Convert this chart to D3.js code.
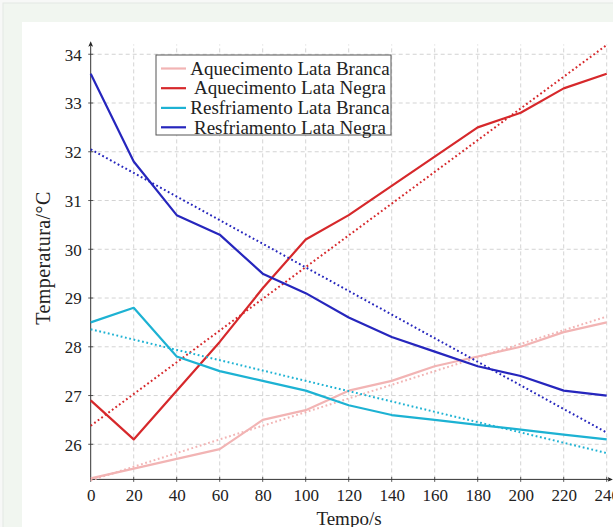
<!DOCTYPE html>
<html lang="pt">
<head>
<meta charset="utf-8">
<title>Temperatura das latas</title>
<script src="https://cdn.jsdelivr.net/npm/d3@7"></script>
<style>
  body { margin: 0; background: #f7f8f7; }
  svg { display: block; }
  text { font-family: "Liberation Serif", "DejaVu Serif", serif; fill: #222; }
</style>
</head>
<body></body>
<script>

//************************************************************//
// Data

var tempo = [0, 20, 40, 60, 80, 100, 120, 140, 160, 180, 200, 220, 240];

var aquecBranca = [25.3, 25.5, 25.7, 25.9, 26.5, 26.7, 27.1, 27.3, 27.6, 27.8, 28.0, 28.3, 28.5];
var aquecNegra  = [26.9, 26.1, 27.1, 28.1, 29.2, 30.2, 30.7, 31.3, 31.9, 32.5, 32.8, 33.3, 33.6];
var resfBranca  = [28.5, 28.8, 27.8, 27.5, 27.3, 27.1, 26.8, 26.6, 26.5, 26.4, 26.3, 26.2, 26.1];
var resfNegra   = [33.6, 31.8, 30.7, 30.3, 29.5, 29.1, 28.6, 28.2, 27.9, 27.6, 27.4, 27.1, 27.0];

// dotted trend lines, values at t = 0 and t = 240
var tendTempo = [0, 240];
var tendAquecBranca = [25.26, 28.62];
var tendAquecNegra  = [26.38, 34.19];
var tendResfBranca  = [28.36, 25.82];
var tendResfNegra   = [32.05, 26.24];

var nomes = ["Aquecimento Lata Branca", "Aquecimento Lata Negra",
             "Resfriamento Lata Branca", "Resfriamento Lata Negra"];
var cores = ["#f2b4b4", "#d6282b", "#1db2d3", "#2626bd"];

var xTicks = [0, 20, 40, 60, 80, 100, 120, 140, 160, 180, 200, 220, 240];
var yTicks = [26, 27, 28, 29, 30, 31, 32, 33, 34];

var series = [aquecBranca, aquecNegra, resfBranca, resfNegra];
var tendencias = [tendAquecBranca, tendAquecNegra, tendResfBranca, tendResfNegra];

//************************************************************//
// Canvas

var width = 613, height = 527;

var canvas = d3.select("body").append("svg")
    .attr("width", width)
    .attr("height", height);

// page frame around the figure
canvas.append("rect")
    .attr("x", 3).attr("y", 3)
    .attr("width", width).attr("height", height)
    .attr("fill", "#f1f6f0")
    .attr("stroke", "#e4e8e4");

canvas.append("rect")
    .attr("x", 22).attr("y", 22)
    .attr("width", width).attr("height", height)
    .attr("fill", "#ffffff");

var x = d3.scaleLinear().domain([0, 240]).range([90.7, 606.7]);
var y = d3.scaleLinear().domain([25.28, 34.2]).range([479.4, 44.5]);

//************************************************************//
// Grid

var grid = canvas.append("g")
    .attr("stroke", "#c8c8c8")
    .attr("stroke-width", 0.8)
    .attr("stroke-dasharray", "4 3");

grid.selectAll(".vgrid").data(xTicks.slice(1)).enter().append("line")
    .attr("x1", d => x(d)).attr("x2", d => x(d))
    .attr("y1", y.range()[0]).attr("y2", y.range()[1]);

grid.selectAll(".hgrid").data(yTicks).enter().append("line")
    .attr("x1", x.range()[0]).attr("x2", x.range()[1])
    .attr("y1", d => y(d)).attr("y2", d => y(d));

//************************************************************//
// Axes

var defs = canvas.append("defs");
defs.append("marker")
    .attr("id", "seta")
    .attr("viewBox", "0 0 10 10")
    .attr("refX", 2).attr("refY", 5)
    .attr("markerWidth", 6).attr("markerHeight", 6)
    .attr("orient", "auto")
  .append("path")
    .attr("d", "M0,1 L9,5 L0,9 L2,5 Z")
    .attr("fill", "#222");

var xAxis = canvas.append("g")
    .attr("transform", "translate(0," + y.range()[0] + ")")
    .call(d3.axisBottom(x).tickValues(xTicks).tickSize(0).tickPadding(10));

var yAxis = canvas.append("g")
    .attr("transform", "translate(" + x.range()[0] + ",0)")
    .call(d3.axisLeft(y).tickValues(yTicks).tickSize(0).tickPadding(9));

[xAxis, yAxis].forEach(function(g){
    g.select(".domain").remove();
    g.selectAll("text").attr("font-size", 17)
        .attr("font-family", "Liberation Serif, serif").attr("fill", "#333");
});
yAxis.selectAll("text").attr("dy", "0.35em");

// ticks crossing the axis lines
canvas.selectAll(".xt").data(xTicks).enter().append("line")
    .attr("x1", d => x(d)).attr("x2", d => x(d))
    .attr("y1", y.range()[0] - 2.5).attr("y2", y.range()[0] + 2.5)
    .attr("stroke", "#333").attr("stroke-width", 0.8);

canvas.selectAll(".yt").data(yTicks).enter().append("line")
    .attr("y1", d => y(d)).attr("y2", d => y(d))
    .attr("x1", x.range()[0] - 2.5).attr("x2", x.range()[0] + 2.5)
    .attr("stroke", "#333").attr("stroke-width", 0.8);

canvas.append("line")
    .attr("x1", x.range()[0]).attr("x2", x.range()[1] + 2)
    .attr("y1", y.range()[0]).attr("y2", y.range()[0])
    .attr("stroke", "#333").attr("stroke-width", 1)
    .attr("marker-end", "url(#seta)");

canvas.append("line")
    .attr("x1", x.range()[0]).attr("x2", x.range()[0])
    .attr("y1", y.range()[0]).attr("y2", y.range()[1] + 1)
    .attr("stroke", "#333").attr("stroke-width", 1)
    .attr("marker-end", "url(#seta)");

canvas.append("text")
    .attr("x", 349).attr("y", 525)
    .attr("text-anchor", "middle")
    .attr("font-size", 19)
    .text("Tempo/s");

canvas.append("text")
    .attr("transform", "translate(43,258) rotate(-90)")
    .attr("text-anchor", "middle")
    .attr("dominant-baseline", "central")
    .attr("font-size", 20)
    .attr("letter-spacing", 0.4)
    .text("Temperatura/°C");

//************************************************************//
// Lines

var linha = d3.line()
    .x((d, i) => x(tempo[i]))
    .y(d => y(d));

var linhaTend = d3.line()
    .x((d, i) => x(tendTempo[i]))
    .y(d => y(d));

var plot = canvas.append("g");

series.forEach(function(s, k){
    plot.append("path")
        .attr("d", linha(s))
        .attr("fill", "none")
        .attr("stroke", cores[k])
        .attr("stroke-width", 2.2)
        .attr("stroke-linejoin", "round");

    plot.append("path")
        .attr("d", linhaTend(tendencias[k]))
        .attr("fill", "none")
        .attr("stroke", cores[k])
        .attr("stroke-width", 2)
        .attr("stroke-dasharray", "1.8 2.6");
});

//************************************************************//
// Legend

var legenda = canvas.append("g");

legenda.append("rect")
    .attr("x", 156).attr("y", 55)
    .attr("width", 235).attr("height", 80)
    .attr("fill", "#ffffff")
    .attr("stroke", "#555")
    .attr("stroke-width", 1);

var linhasLeg = [68.5, 88.2, 107.9, 127.3];

nomes.forEach(function(nome, k){
    legenda.append("line")
        .attr("x1", 161).attr("x2", 186)
        .attr("y1", linhasLeg[k]).attr("y2", linhasLeg[k])
        .attr("stroke", cores[k]).attr("stroke-width", 2.2);

    legenda.append("text")
        .attr("x", 290).attr("y", linhasLeg[k])
        .attr("dy", "0.33em")
        .attr("text-anchor", "middle")
        .attr("font-size", 19)
        .text(nome);
});

</script>
</html>
